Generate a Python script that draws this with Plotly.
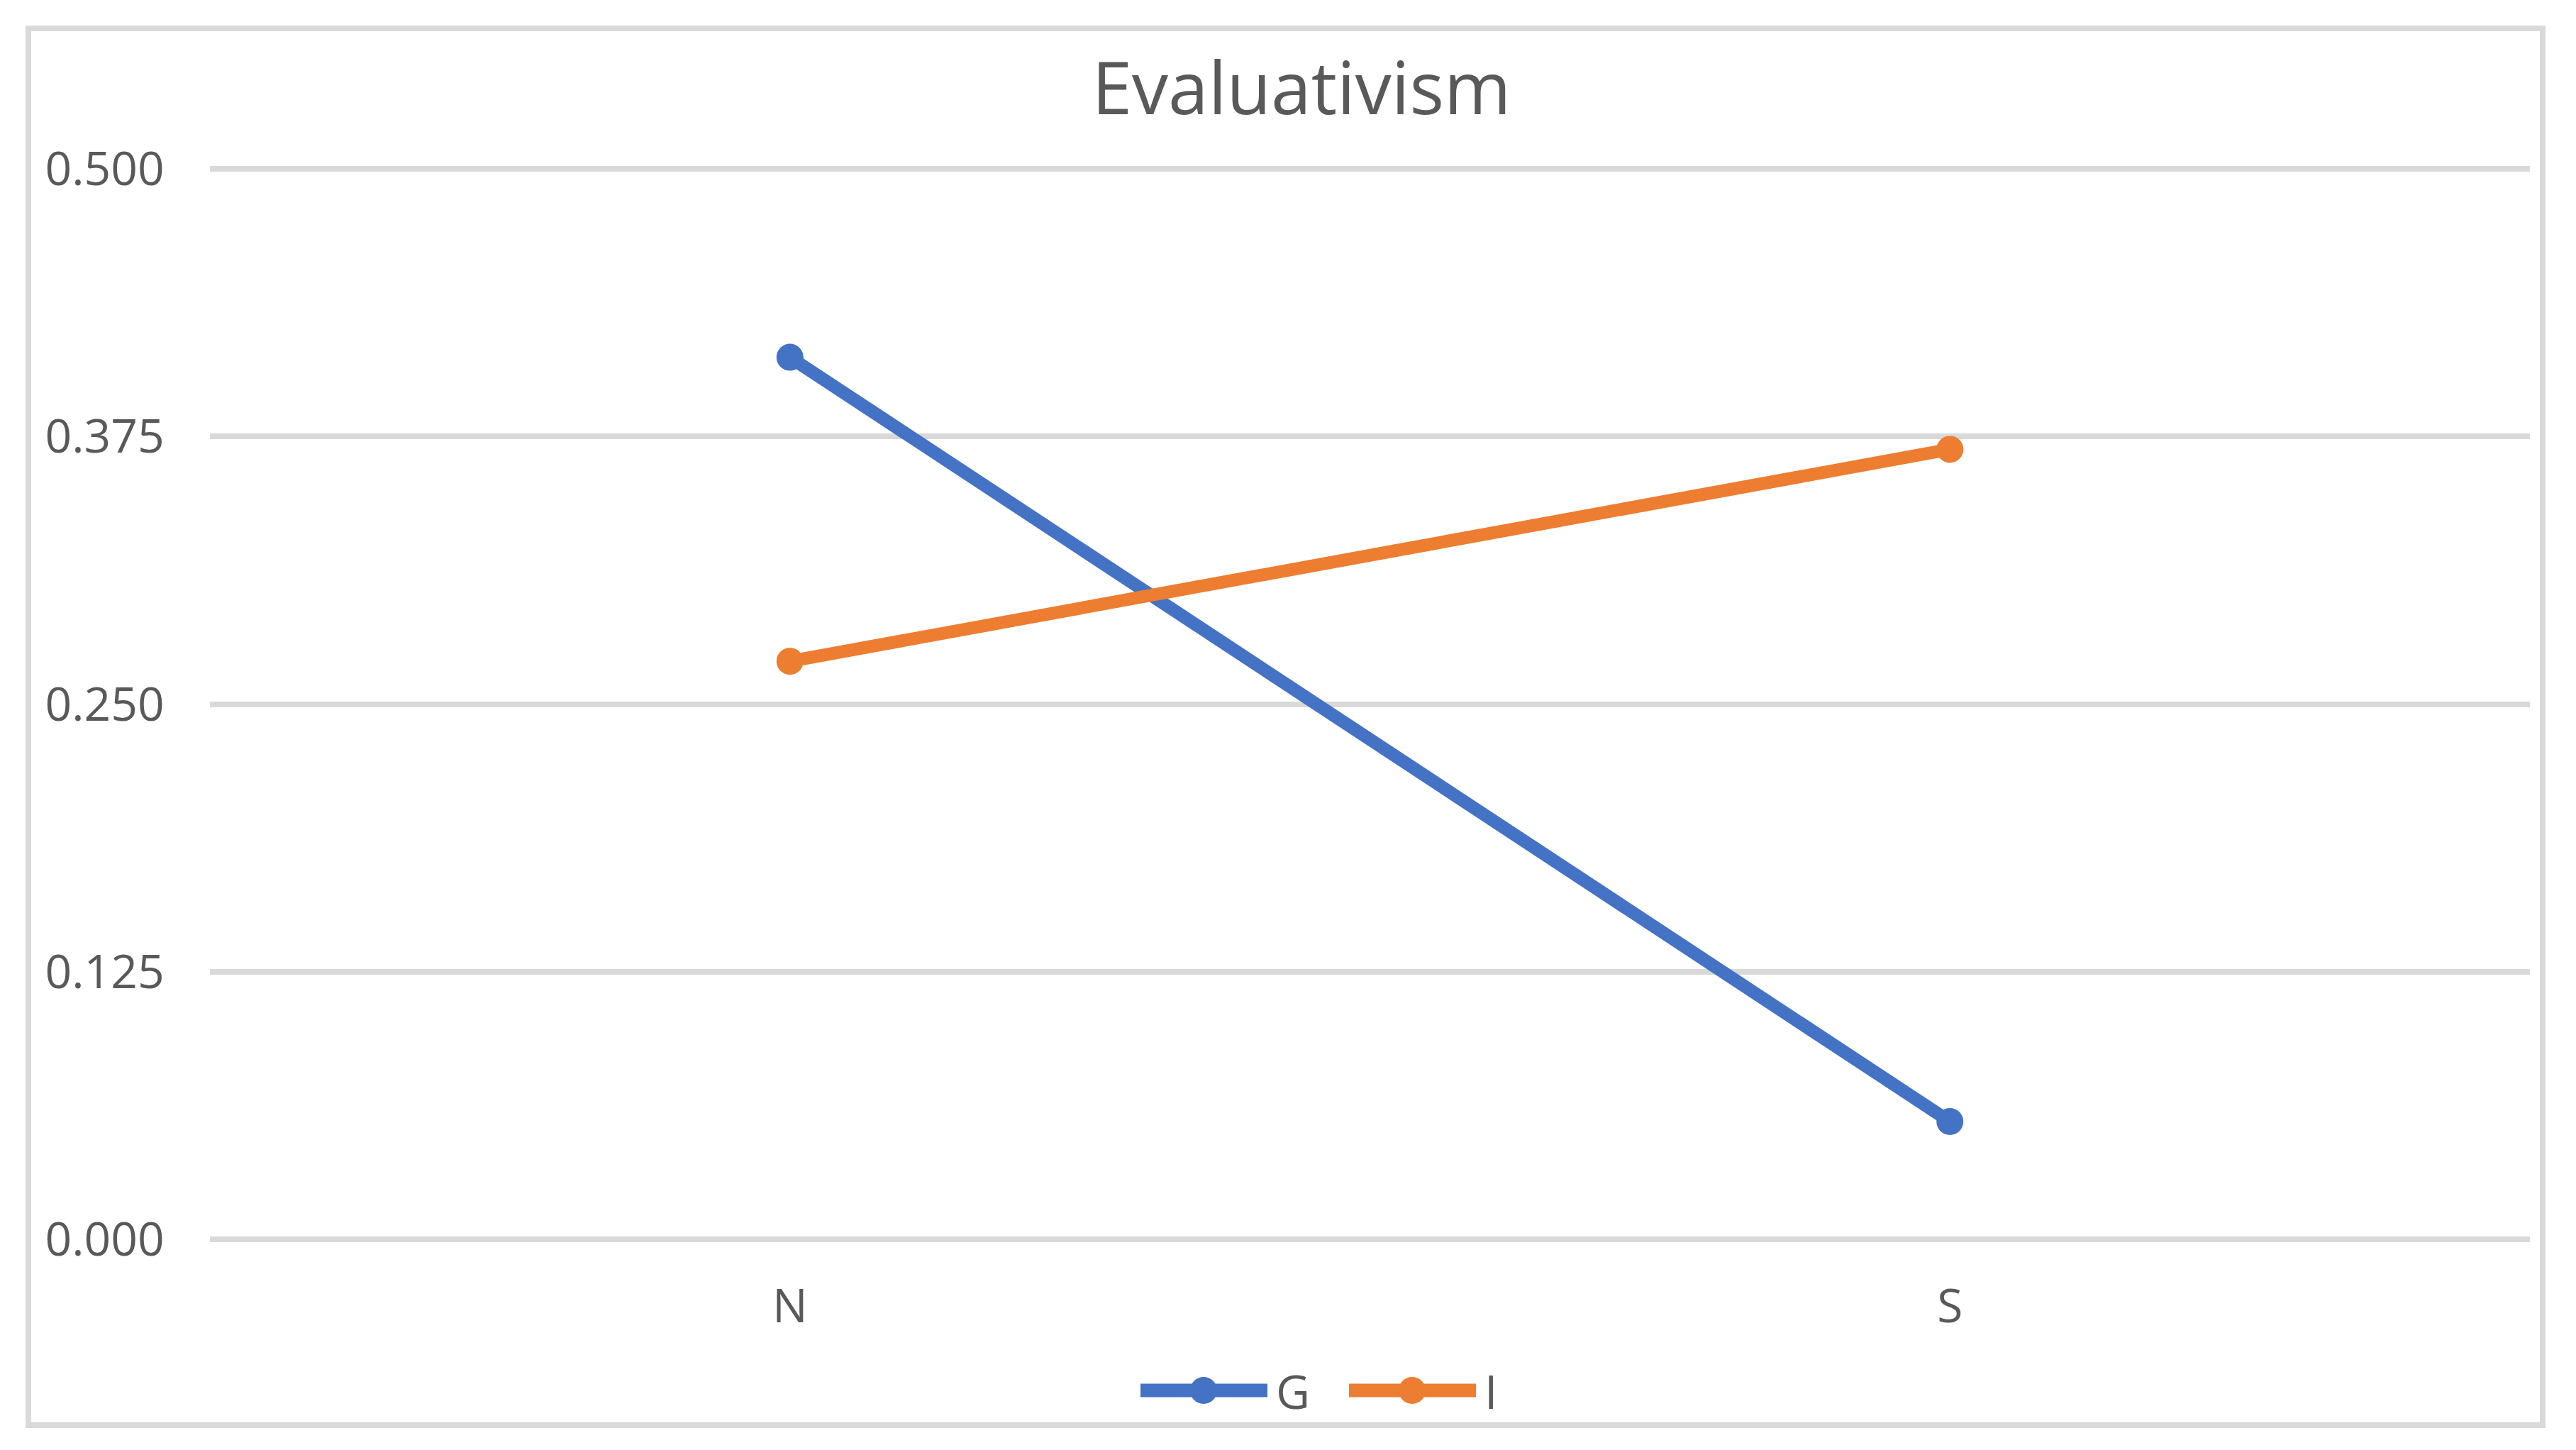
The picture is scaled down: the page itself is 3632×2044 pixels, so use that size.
import plotly.graph_objects as go

categories = ["N", "S"]
series_names = ["G", "I"]
g_values = [0.412, 0.055]
i_values = [0.270, 0.369]
y_tick_values = [0.0, 0.125, 0.25, 0.375, 0.5]
y_tick_labels = ["0.000", "0.125", "0.250", "0.375", "0.500"]

colors = {"G": "#4472C4", "I": "#ED7D31"}
FONT = "Open Sans, Noto Sans, sans-serif"
TEXT = "#595959"
GRID = "#D9D9D9"

W, H = 3632, 2044
OFF = 8  # page body margin offset
L, R, T, B = 296 - OFF, 65 + OFF, 229 - OFF, 288 + OFF

fig = go.Figure()
for name, vals in zip(series_names, [g_values, i_values]):
    fig.add_trace(go.Scatter(
        x=categories, y=vals, name=name, mode="lines+markers",
        line=dict(color=colors[name], width=18),
        marker=dict(color=colors[name], size=38),
        showlegend=False,
    ))

pw = W - L - R
ph = H - T - B
def px_x(x):
    return (x - OFF - L) / pw
def px_y(y):
    return (H - B - (y - OFF)) / ph

shapes = [dict(type="rect", xref="paper", yref="paper",
               x0=px_x(40), x1=px_x(3585), y0=px_y(2009), y1=px_y(40),
               line=dict(color=GRID, width=8), fillcolor="rgba(0,0,0,0)", layer="below")]
annotations = []
leg_y = 1960
for k, name in enumerate(series_names):
    off = 294 * k
    x_start, x_end, x_mid = 1608 + off, 1787 + off, 1697 + off
    shapes.append(dict(type="line", xref="paper", yref="paper",
                       x0=px_x(x_start), x1=px_x(x_end), y0=px_y(leg_y), y1=px_y(leg_y),
                       line=dict(color=colors[name], width=19)))
    shapes.append(dict(type="circle", xref="paper", yref="paper",
                       x0=px_x(x_mid - 19), x1=px_x(x_mid + 19),
                       y0=px_y(leg_y + 19), y1=px_y(leg_y - 19),
                       line=dict(color=colors[name], width=0), fillcolor=colors[name]))
    annotations.append(dict(text=name, xref="paper", yref="paper",
                            x=px_x(1797 + off), y=px_y(leg_y), xanchor="left", yanchor="middle",
                            showarrow=False, font=dict(size=66, color=TEXT, family=FONT)))

fig.update_layout(
    width=W, height=H,
    margin=dict(l=L, r=R, t=T, b=B, autoexpand=False),
    paper_bgcolor="white", plot_bgcolor="white",
    font=dict(family=FONT, color=TEXT, size=66),
    title=dict(text="Evaluativism", x=(1835 - OFF) / W, xref="container",
               y=1 - (125 - OFF) / H, yanchor="middle", xanchor="center",
               font=dict(size=102, color=TEXT, family=FONT)),
    showlegend=False,
    xaxis=dict(type="category", range=[-0.5, 1.5], showgrid=False, zeroline=False,
               showline=False, ticks="outside", ticklen=28, tickcolor="rgba(0,0,0,0)",
               tickfont=dict(size=66, color=TEXT, family=FONT)),
    yaxis=dict(range=[-0.003, 0.503], tickvals=y_tick_values, ticktext=y_tick_labels,
               showgrid=True, gridcolor=GRID, gridwidth=8, zeroline=False,
               showline=False, ticks="outside", ticklen=50, tickcolor="rgba(0,0,0,0)",
               tickfont=dict(size=66, color=TEXT, family=FONT)),
    shapes=shapes,
    annotations=annotations,
)

fig.write_html("out.html")
